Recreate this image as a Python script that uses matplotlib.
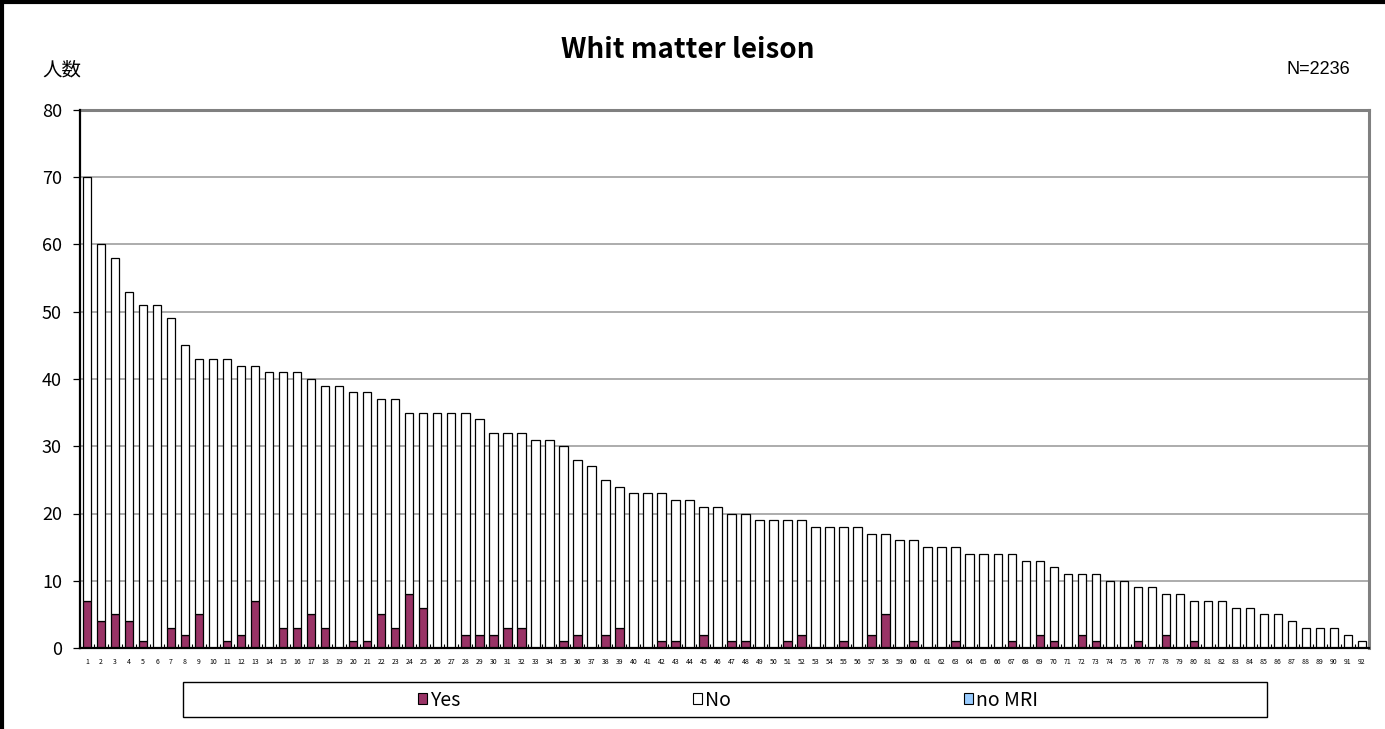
import matplotlib
matplotlib.use("Agg")
import matplotlib.pyplot as plt
from matplotlib.patches import Rectangle, Patch
from matplotlib.lines import Line2D
import numpy as np

plt.rcParams['font.family'] = ['Noto Sans CJK JP', 'DejaVu Sans']

categories = [str(i) for i in range(1, 93)]
totals = [70, 60, 58, 53, 51, 51, 49, 45, 43, 43, 43, 42, 42, 41, 41, 41, 40, 39, 39, 38,
          38, 37, 37, 35, 35, 35, 35, 35, 34, 32, 32, 32, 31, 31, 30, 28, 27, 25, 24, 23,
          23, 23, 22, 22, 21, 21, 20, 20, 19, 19, 19, 19, 18, 18, 18, 18, 17, 17, 16, 16,
          15, 15, 15, 14, 14, 14, 14, 13, 13, 12, 11, 11, 11, 10, 10, 9, 9, 8, 8, 7,
          7, 7, 6, 6, 5, 5, 4, 3, 3, 3, 2, 1]
yes = [7, 4, 5, 4, 1, 0, 3, 2, 5, 0, 1, 2, 7, 0, 3, 3, 5, 3, 0, 1,
       1, 5, 3, 8, 6, 0, 0, 2, 2, 2, 3, 3, 0, 0, 1, 2, 0, 2, 3, 0,
       0, 1, 1, 0, 2, 0, 1, 1, 0, 0, 1, 2, 0, 0, 1, 0, 2, 5, 0, 1,
       0, 0, 1, 0, 0, 0, 1, 0, 2, 1, 0, 2, 1, 0, 0, 1, 0, 2, 0, 1,
       0, 0, 0, 0, 0, 0, 0, 0, 0, 0, 0, 0]
no = [t - y for t, y in zip(totals, yes)]
no_mri = [0] * 92
series_names = ["Yes", "No", "no MRI"]
yticks = [0, 10, 20, 30, 40, 50, 60, 70, 80]

W, H = 1385, 729
fig = plt.figure(figsize=(W / 100, H / 100), dpi=100)
L, R, T, B = 80, 1369, 110, 648
ax = fig.add_axes([L / W, 1 - B / H, (R - L) / W, (B - T) / H])

x = np.arange(len(categories))
bw = 0.6
c_yes, c_no, c_mri = "#993366", "#FFFFFF", "#99CCFF"
ax.bar(x, yes, bw, color=c_yes, edgecolor="black", linewidth=0.9, zorder=3)
ax.bar(x, no, bw, bottom=yes, color=c_no, edgecolor="black", linewidth=0.9, zorder=3)
ax.bar(x, no_mri, bw, bottom=np.array(totals), color=c_mri, edgecolor="none", linewidth=0, zorder=3)

ax.set_xlim(-0.5, len(categories) - 0.5)
ax.set_ylim(0, 80)
ax.set_yticks(yticks)
ax.set_yticklabels([str(v) for v in yticks], fontsize=13)
ax.set_xticks(x)
ax.set_xticklabels(categories, fontsize=5)
ax.set_xticks(np.arange(-0.5, len(categories), 1), minor=True)
ax.tick_params(axis='x', which='major', length=0, pad=7)
ax.tick_params(axis='x', which='minor', length=3, direction='in', width=0.8)
ax.tick_params(axis='y', which='major', length=5, direction='out', width=0.9, pad=8)
ax.grid(axis='y', color="#A6A6A6", linewidth=1.3, zorder=0)
ax.set_axisbelow(True)

for s in ['left', 'bottom']:
    ax.spines[s].set_color('black')
    ax.spines[s].set_linewidth(1.6)
    ax.spines[s].set_zorder(4)
for s in ['top', 'right']:
    ax.spines[s].set_color('#808080')
    ax.spines[s].set_linewidth(2.2)

fig.text(688 / W, 1 - 50 / H, "Whit matter leison", ha='center', va='center',
         fontsize=20, fontweight='bold')
fig.text(42 / W, 1 - 70 / H, "人数", ha='left', va='center', fontsize=14)
fig.text(1350 / W, 1 - 69 / H, "N=2236", ha='right', va='center', fontsize=13,
         family=['Liberation Sans', 'DejaVu Sans'])

# figure border (top and left)
fig.add_artist(Line2D([0, 1], [1 - 1.5 / H, 1 - 1.5 / H], color='black', linewidth=3,
                      transform=fig.transFigure))
fig.add_artist(Line2D([1.5 / W, 1.5 / W], [0, 1], color='black', linewidth=3,
                      transform=fig.transFigure))

# legend box
lx0, lx1, ly0, ly1 = 183, 1267, 682, 717
fig.add_artist(Rectangle((lx0 / W, 1 - ly1 / H), (lx1 - lx0) / W, (ly1 - ly0) / H,
                         transform=fig.transFigure, facecolor='white', edgecolor='black',
                         linewidth=1.0))
handles = [Patch(facecolor=c, edgecolor='black', linewidth=0.8) for c in (c_yes, c_no, c_mri)]
fig.legend(handles, series_names, loc='center', ncol=3,
           bbox_to_anchor=(728 / W, 1 - 700 / H), frameon=False, fontsize=14,
           handlelength=0.45, handleheight=0.45, handletextpad=0.15,
           columnspacing=12.0, borderpad=0)

fig.savefig("out.png", dpi=100)
